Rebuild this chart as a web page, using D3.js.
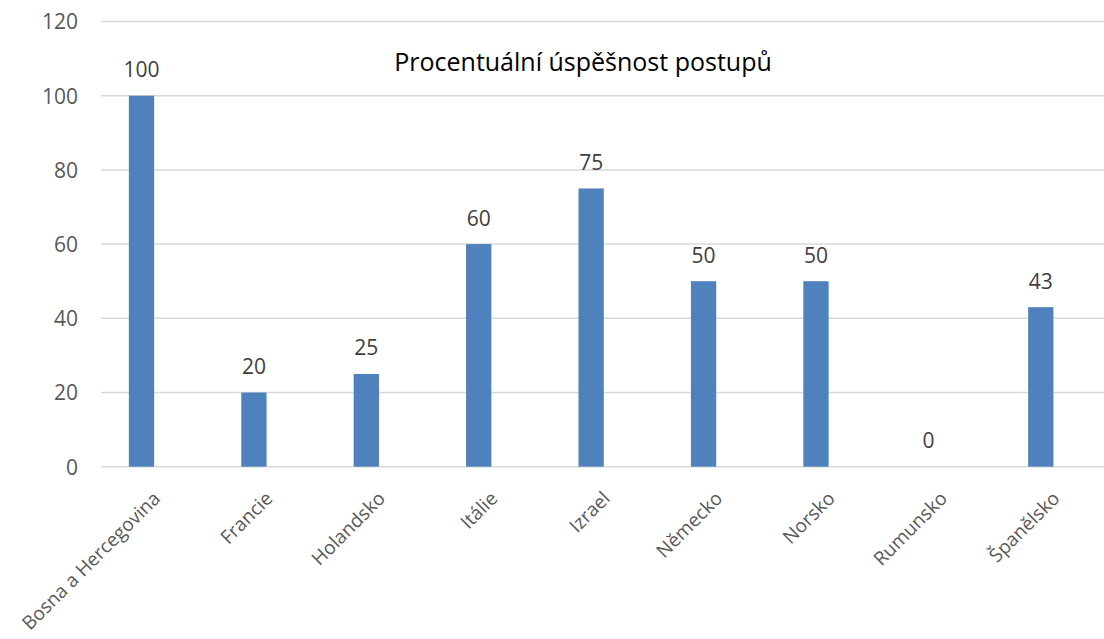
<!DOCTYPE html>
<html>
<head>
<meta charset="utf-8">
<script src="https://cdn.jsdelivr.net/npm/d3@7"></script>
<style>
  html, body { margin: 0; padding: 0; background: #fff; }
  svg { display: block; font-family: "Open Sans", Lato, sans-serif; }
</style>
</head>
<body>
<svg id="chart" width="1104" height="639"></svg>
<script>
// Success rate of advancement by country (percent)
const categories = ["Bosna a Hercegovina", "Francie", "Holandsko", "Itálie", "Izrael",
                    "Německo", "Norsko", "Rumunsko", "Španělsko"];
const values = [100, 20, 25, 60, 75, 50, 50, 0, 43];
const yTicks = [0, 20, 40, 60, 80, 100, 120];
const title = "Procentuální úspěšnost postupů";

const FONT = "'Open Sans', Lato, sans-serif";
const svg = d3.select("#chart");

const x = d3.scaleBand()
  .domain(categories)
  .range([85.3, 1097])
  .paddingInner(0.775)
  .paddingOuter(0.3875);

const y = d3.scaleLinear()
  .domain([0, 120])
  .range([466.7, 21.5]);

const gridLeft = 101, gridRight = 1104;

// Horizontal gridlines
svg.append("g")
  .selectAll("line")
  .data(yTicks)
  .join("line")
  .attr("x1", gridLeft)
  .attr("x2", gridRight)
  .attr("y1", d => y(d))
  .attr("y2", d => y(d))
  .attr("stroke", "#d9d9d9")
  .attr("stroke-width", 1.5);

// Y axis labels
const yAxis = d3.axisLeft(y).tickValues(yTicks).tickSize(0).tickPadding(0);
svg.append("g")
  .attr("transform", "translate(78,0)")
  .call(yAxis)
  .call(g => g.select(".domain").remove())
  .call(g => g.selectAll("text")
    .attr("fill", "#595959")
    .attr("font-size", 21)
    .attr("font-family", FONT)
    .attr("dy", "0.35em"));

// Bars
svg.append("g")
  .selectAll("rect")
  .data(values)
  .join("rect")
  .attr("x", (d, i) => x(categories[i]))
  .attr("width", x.bandwidth())
  .attr("y", d => y(d))
  .attr("height", d => y(0) - y(d))
  .attr("fill", "#4f81bd");

// Value labels above bars
svg.append("g")
  .selectAll("text")
  .data(values)
  .join("text")
  .attr("x", (d, i) => x(categories[i]) + x.bandwidth() / 2)
  .attr("y", d => y(d) - 18.5)
  .attr("text-anchor", "middle")
  .attr("fill", "#404040")
  .attr("font-size", 21)
  .text(d => d);

// Rotated category labels
const xAxis = d3.axisBottom(x).tickSize(0).tickPadding(0);
svg.append("g")
  .attr("transform", `translate(0,${y(0)})`)
  .call(xAxis)
  .call(g => g.select(".domain").remove())
  .call(g => g.selectAll("text")
    .attr("fill", "#595959")
    .attr("font-size", 19)
    .attr("font-family", FONT)
    .attr("text-anchor", "end")
    .attr("dy", 0)
    .attr("y", 0)
    .attr("transform", "translate(20,33) rotate(-45)"));

// Title
svg.append("text")
  .attr("x", 583)
  .attr("y", 71)
  .attr("text-anchor", "middle")
  .attr("fill", "#000")
  .attr("font-size", 25)
  .text(title);
</script>
</body>
</html>
